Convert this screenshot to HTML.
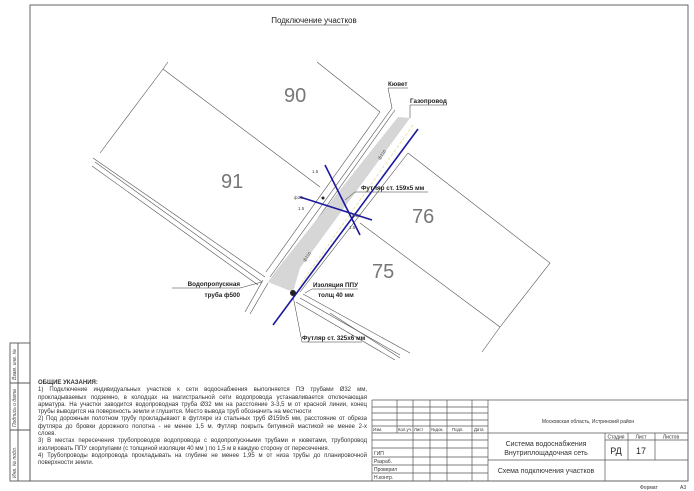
<!DOCTYPE html>
<html><head><meta charset="utf-8"><style>
html,body{margin:0;padding:0;background:#fff;}
svg{display:block;}
text{font-family:"Liberation Sans","DejaVu Sans",sans-serif;}
.nt{position:absolute;left:38px;width:329px;font-family:"Liberation Sans",sans-serif;font-size:6px;line-height:7.3px;color:#333;}
.nt div{text-align:justify;text-align-last:justify;white-space:nowrap;}
.nt div.e{text-align-last:left;}
</style></head><body>
<div style="position:relative;width:694px;height:491px;overflow:hidden;">
<svg width="694" height="491" viewBox="0 0 694 491" xmlns="http://www.w3.org/2000/svg">
<g fill="none" stroke="#555" stroke-width="0.9">
<rect x="30" y="5" width="658" height="476"/>
<rect x="10" y="343" width="20" height="138"/>
<line x1="18" y1="343" x2="18" y2="481"/>
<line x1="10" y1="383" x2="30" y2="383"/>
<line x1="10" y1="430" x2="30" y2="430"/>
</g>
<g font-size="5" fill="#444" font-style="italic" font-family="Liberation Serif,serif">
<text transform="translate(16,380) rotate(-90)">Взам. инв. №</text>
<text transform="translate(16,427) rotate(-90)">Подпись и дата</text>
<text transform="translate(16,478) rotate(-90)">Инв. № подл.</text>
</g>
<text x="314" y="23" font-size="8" text-anchor="middle" fill="#222">Подключение участков</text>
<line x1="280" y1="25" x2="349" y2="25" stroke="#222" stroke-width="0.6"/>

<!-- drawing -->
<g fill="none" stroke="#555" stroke-width="0.6">
<polyline points="168,62 163,69 100,153"/>
<line x1="163" y1="69" x2="320" y2="187"/>
<line x1="317" y1="62" x2="380" y2="112"/>
<line x1="380" y1="112" x2="266" y2="272"/>
<line x1="392" y1="108" x2="270" y2="277"/>
<line x1="395" y1="110" x2="274" y2="280"/>
<line x1="93" y1="158" x2="265" y2="277"/>
<line x1="95" y1="162" x2="262" y2="282"/>
<line x1="92" y1="166" x2="258" y2="285"/>
<line x1="263" y1="280" x2="245" y2="312"/>
<line x1="268" y1="283" x2="250" y2="314"/>
<polyline points="408,153 550,263 500,327 482,352"/>
<line x1="408" y1="153" x2="300" y2="292"/>
<line x1="360" y1="223" x2="500" y2="327"/>
<line x1="300" y1="298" x2="400" y2="355"/>
<line x1="296" y1="302" x2="395" y2="360"/>
<line x1="303" y1="294" x2="410" y2="353"/>
<line x1="330" y1="313" x2="400" y2="358"/>
</g>
<polygon points="398,117 410,118 300,268 293,292 268,282 275,272" fill="#d6d6d6"/>
<line x1="413" y1="125" x2="300" y2="285" stroke="#e8d890" stroke-width="0.8" stroke-dasharray="3,2"/>
<g stroke="#1a1aa0" stroke-width="1.6">
<line x1="418" y1="129" x2="273" y2="325"/>
<line x1="325" y1="165" x2="360" y2="235"/>
<line x1="300" y1="197" x2="372" y2="220"/>
</g>
<circle cx="293" cy="293" r="3" fill="#222"/>
<circle cx="323" cy="198" r="1.5" fill="#222"/>
<g font-size="4.5" fill="#444">
<text transform="translate(380,160) rotate(-54)">ф110</text>
<text transform="translate(305,262) rotate(-54)">ф110</text>
<text x="352" y="217">ф32</text>
<text x="312" y="173">1.5</text>
<text x="294" y="199">ф32</text>
<text x="298" y="210">1.5</text>
<text x="349" y="229">1.5</text>
</g>
<g font-size="20" fill="#777">
<text x="284" y="102">90</text>
<text x="221" y="188">91</text>
<text x="412" y="223">76</text>
<text x="372" y="278">75</text>
</g>
<g font-size="6.3" font-weight="bold" fill="#222">
<text x="388" y="86">Кювет</text>
<text x="410" y="103">Газопровод</text>
<text x="361" y="190">Футляр ст. 159х5 мм</text>
<text x="313" y="287">Изоляция ППУ</text>
<text x="318" y="297">толщ 40 мм</text>
<text x="240" y="286" text-anchor="end">Водопропускная</text>
<text x="240" y="297" text-anchor="end">труба ф500</text>
<text x="302" y="340">Футляр ст. 325х6 мм</text>
</g>
<g stroke="#333" stroke-width="0.5" fill="none">
<polyline points="392,108 388,88 408,88"/>
<polyline points="410,118 410,105 447,105"/>
<polyline points="345,200 355,192 428,192"/>
<polyline points="305,293 312,289 358,289"/>
<polyline points="172,288 240,288 262,282"/>
<polyline points="293,296 302,342 362,342"/>
</g>

<!-- title block -->
<g fill="none" stroke="#555" stroke-width="0.7">
<line x1="372" y1="400" x2="688" y2="400"/>
<line x1="372" y1="400" x2="372" y2="481"/>
<line x1="372" y1="407" x2="488" y2="407"/>
<line x1="372" y1="413" x2="488" y2="413"/>
<line x1="372" y1="420" x2="488" y2="420"/>
<line x1="372" y1="426" x2="488" y2="426"/>
<line x1="372" y1="433" x2="688" y2="433"/>
<line x1="372" y1="440" x2="488" y2="440"/>
<line x1="372" y1="448" x2="488" y2="448"/>
<line x1="372" y1="457" x2="488" y2="457"/>
<line x1="372" y1="465" x2="488" y2="465"/>
<line x1="372" y1="473" x2="488" y2="473"/>
<line x1="397" y1="400" x2="397" y2="433"/>
<line x1="413" y1="400" x2="413" y2="481"/>
<line x1="430" y1="400" x2="430" y2="481"/>
<line x1="447" y1="400" x2="447" y2="481"/>
<line x1="472" y1="400" x2="472" y2="481"/>
<line x1="488" y1="400" x2="488" y2="481"/>
<line x1="605" y1="433" x2="605" y2="481"/>
<line x1="628" y1="433" x2="628" y2="460"/>
<line x1="655" y1="433" x2="655" y2="460"/>
<line x1="605" y1="440" x2="688" y2="440"/>
<line x1="488" y1="460" x2="688" y2="460"/>
</g>
<g font-size="4.3" fill="#333">
<text x="373" y="431">Изм.</text>
<text x="398" y="431">Кол.уч.</text>
<text x="414" y="431">Лист</text>
<text x="431" y="431">№док.</text>
<text x="452" y="431">Подп.</text>
<text x="474" y="431">Дата</text>
</g>
<g font-size="5" fill="#333">
<text x="374" y="455">ГИП</text>
<text x="374" y="463">Разраб.</text>
<text x="374" y="471">Проверил</text>
<text x="374" y="479">Н.контр.</text>
<text x="588" y="423" text-anchor="middle">Московская область, Истринский район</text>
<text x="616" y="438.5" text-anchor="middle">Стадия</text>
<text x="641" y="438.5" text-anchor="middle">Лист</text>
<text x="671" y="438.5" text-anchor="middle">Листов</text>
<text x="640" y="489">Формат</text>
<text x="680" y="489">А3</text>
</g>
<g font-size="7" fill="#333" text-anchor="middle">
<text x="546" y="446">Система водоснабжения</text>
<text x="546" y="455">Внутриплощадочная сеть</text>
<text x="546" y="473">Схема подключения участков</text>
</g>
<g font-size="9" fill="#222" text-anchor="middle">
<text x="616" y="454">РД</text>
<text x="641" y="454">17</text>
</g>
</svg>
<div class="nt" style="top:380px;">
<div class="e" style="font-weight:bold">ОБЩИЕ УКАЗАНИЯ:</div>
<div>1) Подключение индивидуальных участков к сети водоснабжения выполняется ПЭ трубами Ø32 мм,</div>
<div>прокладываемых подземно, в колодцах на магистральной сети водопровода устанавливается отключающая</div>
<div>арматура. На участки заводится водопроводная труба Ø32 мм на расстояние 3-3,5 м от красной линии, конец</div>
<div class="e">трубы выводится на поверхность земли и глушится. Место вывода труб обозначить на местности</div>
<div>2) Под дорожным полотном трубу прокладывают в футляре из стальных труб Ø159х5 мм, расстояние от обреза</div>
<div>футляра до бровки дорожного полотна - не менее 1,5 м. Футляр покрыть битумной мастикой не менее 2-х</div>
<div class="e">слоев.</div>
<div>3) В местах пересечения трубопроводов водопровода с водопропускными трубами и кюветами, трубопровод</div>
<div class="e">изолировать ППУ скорлупами (с толщиной изоляции 40 мм ) по 1,5 м в каждую сторону от пересечения.</div>
<div>4) Трубопроводы водопровода прокладывать на глубине не менее 1,95 м от низа трубы до планировочной</div>
<div class="e">поверхности земли.</div>
</div>
</div>
</body></html>
